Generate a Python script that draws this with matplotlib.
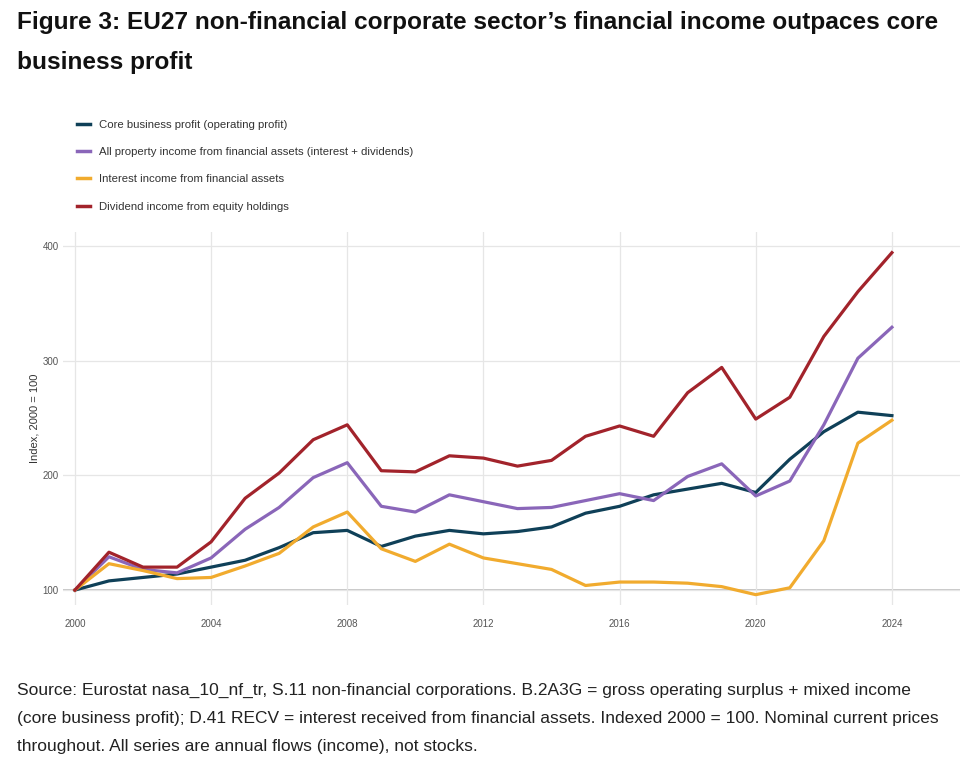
import matplotlib.pyplot as plt
from matplotlib.lines import Line2D

years = list(range(2000, 2025))

core_profit = [100, 108, 111, 114, 120, 126, 137, 150, 152, 138, 147, 152, 149, 151, 155,
               167, 173, 183, 188, 193, 185, 214, 238, 255, 252]
property_income = [100, 129, 118, 115, 128, 153, 172, 198, 211, 173, 168, 183, 177, 171, 172,
                   178, 184, 178, 199, 210, 182, 195, 244, 302, 329]
interest_income = [100, 123, 117, 110, 111, 121, 132, 155, 168, 136, 125, 140, 128, 123, 118,
                   104, 107, 107, 106, 103, 96, 102, 143, 228, 248]
dividend_income = [100, 133, 120, 120, 142, 180, 202, 231, 244, 204, 203, 217, 215, 208, 213,
                   234, 243, 234, 272, 294, 249, 268, 321, 360, 394]

labels = [
    "Core business profit (operating profit)",
    "All property income from financial assets (interest + dividends)",
    "Interest income from financial assets",
    "Dividend income from equity holdings",
]
colors = ["#0f4058", "#8a66b9", "#f1ab2e", "#a2232b"]

x_ticks = [2000, 2004, 2008, 2012, 2016, 2020, 2024]
y_ticks = [100, 200, 300, 400]

plt.rcParams['font.family'] = ['Liberation Sans', 'DejaVu Sans']

fig = plt.figure(figsize=(9.68, 7.64), dpi=100)
ax = fig.add_axes([63 / 968, 1 - 605 / 764, (960 - 63) / 968, (605 - 232) / 764])

series = [core_profit, property_income, interest_income, dividend_income]
for vals, c in zip(series, colors):
    ax.plot(years, vals, color=c, lw=2.3, solid_joinstyle='round', zorder=3)

ax.set_xlim(1999.65, 2026.0)
ax.set_ylim(87, 412)
ax.set_xticks(x_ticks)
ax.set_yticks(y_ticks)
ax.tick_params(axis='x', length=0, labelsize=7, colors="#555555", pad=10)
ax.tick_params(axis='y', length=0, labelsize=7, colors="#555555", pad=3)
for s in ax.spines.values():
    s.set_visible(False)
ax.grid(True, color="#e6e6e6", lw=0.9, zorder=0)
ax.axhline(100, color="#bdbdbd", lw=1.2, zorder=1)
ax.set_ylabel("Index, 2000 = 100", fontsize=8, color="#333333", labelpad=2)

# legend above the plot
handles = [Line2D([0], [0], color=c, lw=2.5) for c in colors]
fig.legend(handles, labels, loc="upper left", bbox_to_anchor=(67 / 968, 1 - 110 / 764),
           frameon=False, fontsize=8.2, handlelength=1.15, labelspacing=1.5,
           handletextpad=0.8, labelcolor="#333333")

fig.text(17 / 968, 1 - 23 / 764,
         "Figure 3: EU27 non-financial corporate sector\u2019s financial income outpaces core",
         fontsize=17.6, fontweight="bold", va="center", ha="left", color="#111111")
fig.text(17 / 968, 1 - 62 / 764, "business profit",
         fontsize=17.6, fontweight="bold", va="center", ha="left", color="#111111")

foot = ("Source: Eurostat nasa_10_nf_tr, S.11 non-financial corporations. B.2A3G = gross operating surplus + mixed income\n"
        "(core business profit); D.41 RECV = interest received from financial assets. Indexed 2000 = 100. Nominal current prices\n"
        "throughout. All series are annual flows (income), not stocks.")
fig.text(17 / 968, 1 - 683 / 764, foot, fontsize=12.5, va="top", ha="left",
         color="#222222", linespacing=2.06)

fig.savefig("out.png", dpi=100)
